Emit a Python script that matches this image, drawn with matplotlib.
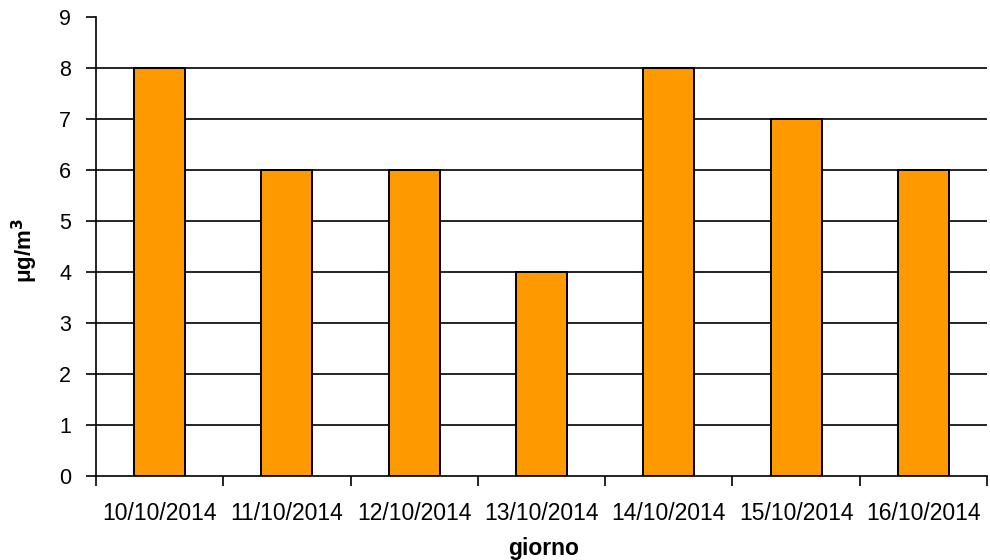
import matplotlib
matplotlib.use("Agg")
import matplotlib.pyplot as plt
import numpy as np

# Daily concentrations
days = ["10/10/2014", "11/10/2014", "12/10/2014", "13/10/2014",
        "14/10/2014", "15/10/2014", "16/10/2014"]
values = [8, 6, 6, 4, 8, 7, 6]
y_ticks = [0, 1, 2, 3, 4, 5, 6, 7, 8, 9]

plt.rcParams['font.family'] = ['Liberation Sans', 'DejaVu Sans']

fig = plt.figure(figsize=(9.9, 5.6), dpi=100)
ax = fig.add_axes([96 / 990, 84 / 560, 891 / 990, 459 / 560])

x = np.arange(len(days))
ax.bar(x, values, width=0.4, color="#FF9900", edgecolor="black",
       linewidth=1.4, zorder=3)

ax.set_xlim(-0.5, len(days) - 0.5)
ax.set_ylim(0, 9)
ax.set_yticks(y_ticks)
for v in y_ticks[1:-1]:
    ax.axhline(v, color="black", linewidth=1.2, zorder=1)

for s in ["top", "right"]:
    ax.spines[s].set_visible(False)
for s in ["left", "bottom"]:
    ax.spines[s].set_linewidth(1.2)
    ax.spines[s].set_zorder(4)

ax.set_xticks(x)
ax.set_xticklabels(days)
ax.set_xticks(np.arange(-0.5, len(days), 1.0), minor=True)
ax.tick_params(axis="x", which="major", length=0, pad=19, labelsize=16.5)
ax.tick_params(axis="x", which="minor", length=7, width=1.2, direction="out")
ax.tick_params(axis="y", length=7, width=1.2, pad=11, labelsize=15.5)

fig.text(544 / 990, 11 / 560, "giorno", ha="center", va="center",
         fontsize=16.5, fontweight="bold")
fig.text(25 / 990, 309 / 560, "μg/m$^\\mathbf{3}$", ha="center", va="center",
         rotation=90, fontsize=16, fontweight="bold")

fig.savefig("out.png", dpi=100)
